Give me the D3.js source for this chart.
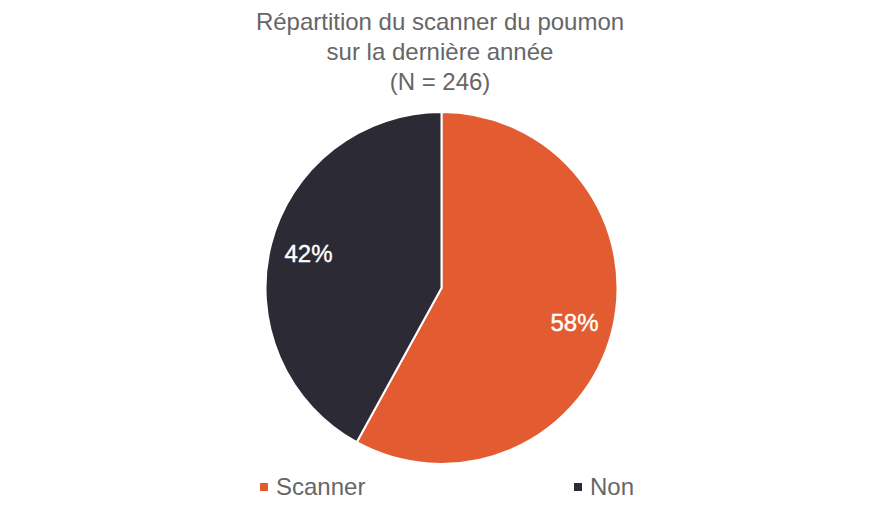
<!DOCTYPE html>
<html>
<head>
<meta charset="utf-8">
<script src="https://cdn.jsdelivr.net/npm/d3@7"></script>
<style>
  body { margin: 0; background: #fff; }
</style>
</head>
<body>
<div id="chart"></div>
<script>
const categories = ["Scanner", "Non"];
const values = [58, 42];
const colors = ["#E35B30", "#2B2A35"];
const titleLines = ["Répartition du scanner du poumon", "sur la dernière année", "(N = 246)"];

const width = 880;
const height = 518;
const cx = 441.5;
const cy = 288;
const radius = 176;
const font = "Liberation Sans, Arial, sans-serif";

const data = categories.map((c, i) => ({ cat: c, value: values[i], color: colors[i] }));

const svg = d3.select("#chart")
  .append("svg")
    .attr("width", width)
    .attr("height", height)
    .attr("font-family", font);

// Title
svg.append("text")
    .attr("text-anchor", "middle")
    .attr("fill", "#666666")
    .attr("font-size", 24)
  .selectAll("tspan")
  .data(titleLines)
  .join("tspan")
    .attr("x", width / 2)
    .attr("y", (d, i) => 30 + i * 30)
    .text((d) => d);

const pie = d3.pie()
  .sort(null)
  .value((d) => d.value);

const arc = d3.arc()
  .innerRadius(0)
  .outerRadius(radius);

const labelArc = d3.arc()
  .innerRadius(radius * 0.78)
  .outerRadius(radius * 0.78);

const g = svg.append("g")
    .attr("transform", `translate(${cx}, ${cy})`);

const arcs = pie(data);

g.selectAll("path")
  .data(arcs)
  .join("path")
    .attr("d", arc)
    .attr("fill", (d) => d.data.color)
    .attr("stroke", "#ffffff")
    .attr("stroke-width", 2)
    .attr("stroke-linejoin", "round");

g.selectAll(".label")
  .data(arcs)
  .join("text")
    .attr("class", "label")
    .attr("transform", (d) => `translate(${labelArc.centroid(d)})`)
    .attr("text-anchor", "middle")
    .attr("dy", "0.35em")
    .attr("fill", "#ffffff")
    .attr("font-size", 24)
    .attr("stroke", "#ffffff")
    .attr("stroke-width", 0.4)
    .text((d) => `${d.data.value}%`);

// Legend
const legendX = d3.scalePoint()
  .domain(categories)
  .range([260, 574]);

const legend = svg.append("g")
  .selectAll("g")
  .data(data)
  .join("g")
    .attr("transform", (d) => `translate(${legendX(d.cat)}, 487)`);

legend.append("rect")
    .attr("x", 0)
    .attr("y", -4)
    .attr("width", 8)
    .attr("height", 8)
    .attr("fill", (d) => d.color);

legend.append("text")
    .attr("x", 16)
    .attr("dy", "0.35em")
    .attr("fill", "#666666")
    .attr("font-size", 24)
    .text((d) => d.cat);
</script>
</body>
</html>
